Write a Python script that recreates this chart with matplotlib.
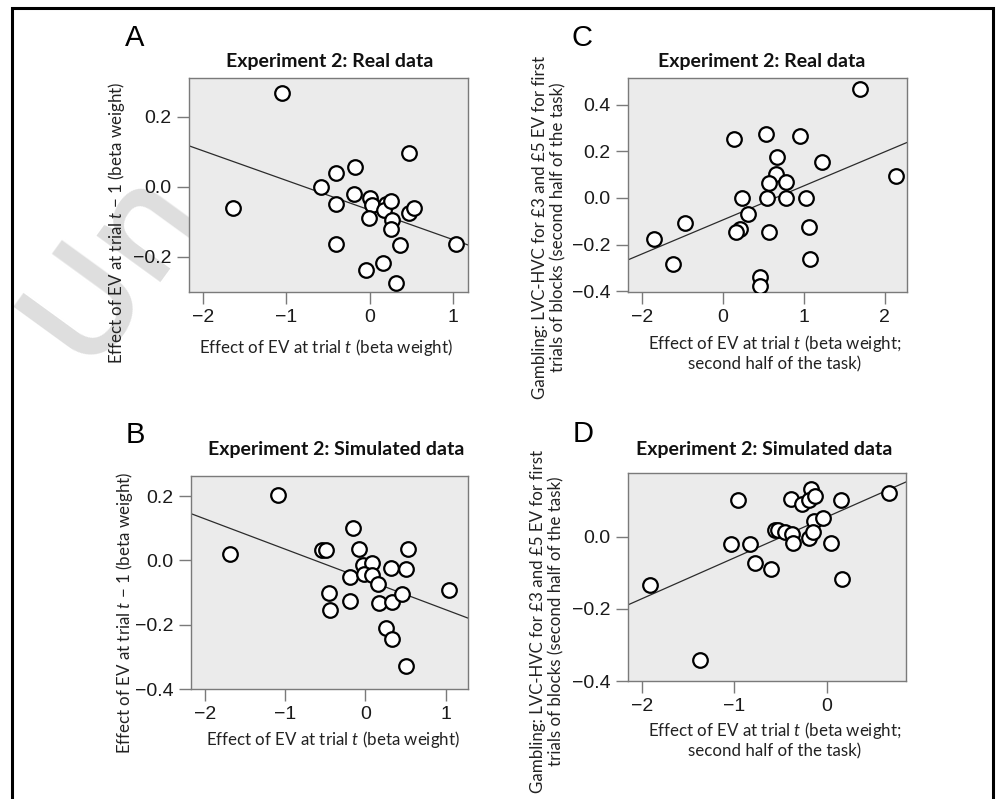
import matplotlib
matplotlib.use("Agg")
import matplotlib.pyplot as plt
from matplotlib.patches import Rectangle
import numpy as np

W, H = 1003, 799

# ---------------- data ----------------
# Panel A: Experiment 2 real data
a_x = [-1.055, -1.645, -0.58, -0.405, -0.405, -0.405, -0.176, -0.19, 0.0, 0.03, -0.01,
       -0.044, 0.19, 0.17, 0.26, 0.27, 0.25, 0.16, 0.31, 0.365, 0.47, 0.47, 0.53, 1.04]
a_y = [0.268, -0.059, 0.001, 0.039, -0.049, -0.163, 0.058, -0.02, -0.032, -0.053, -0.089,
       -0.237, -0.049, -0.066, -0.039, -0.094, -0.12, -0.216, -0.273, -0.167, 0.096, -0.075,
       -0.061, -0.164]
a_fit = [-0.0845, -0.066]          # slope, intercept

# Panel B: Experiment 2 simulated data
b_x = [-1.096, -1.688, -0.537, -0.496, -0.454, -0.446, -0.196, -0.192, -0.154, -0.079,
       -0.025, 0.079, -0.017, 0.079, 0.15, 0.163, 0.321, 0.329, 0.254, 0.333, 0.458,
       0.508, 0.525, 0.508, 1.046]
b_y = [0.205, 0.021, 0.033, 0.033, -0.101, -0.154, -0.125, -0.051, 0.100, 0.036,
       -0.015, -0.008, -0.041, -0.046, -0.072, -0.132, -0.024, -0.129, -0.210, -0.245,
       -0.104, -0.027, 0.036, -0.328, -0.092]
b_fit = [-0.094, -0.059]

# Panel C: Experiment 2 real data (gambling)
c_x = [-0.849, -0.618, -0.466, 0.132, 0.235, 0.214, 0.165, 0.305, 0.536, 0.667, 0.659,
       0.569, 0.544, 0.573, 0.779, 0.783, 0.956, 1.03, 1.063, 1.08, 1.22, 0.461, 0.461,
       1.698, 2.143]
c_y = [-0.177, -0.282, -0.108, 0.251, 0.0, -0.132, -0.148, -0.068, 0.272, 0.174, 0.102,
       0.065, 0.0, -0.145, 0.07, 0.0, 0.265, 0.0, -0.125, -0.26, 0.154, -0.339, -0.379,
       0.468, 0.095]
c_fit = [0.1459, -0.094]

# Panel D: Experiment 2 simulated data (gambling)
d_x = [-1.914, -1.369, -0.964, -1.040, -0.834, -0.776, -0.607, -0.560, -0.524, -0.451,
       -0.372, -0.368, -0.390, -0.271, -0.173, -0.188, -0.126, -0.188, -0.137, -0.144,
       -0.043, 0.047, 0.152, 0.162, 0.668]
d_y = [-0.135, -0.341, 0.103, -0.020, -0.020, -0.074, -0.088, 0.018, 0.018, 0.012,
       0.009, -0.018, 0.106, 0.090, 0.134, 0.103, 0.112, -0.002, 0.044, 0.014,
       0.053, -0.018, 0.103, -0.117, 0.122]
d_fit = [0.1135, 0.055]

a_xticks, a_xlabels = [-2, -1, 0, 1], ["\u22122", "\u22121", "0", "1"]
a_yticks, a_ylabels = [0.2, 0.0, -0.2], ["0.2", "0.0", "\u22120.2"]
b_xticks, b_xlabels = [-2, -1, 0, 1], ["\u22122", "\u22121", "0", "1"]
b_yticks, b_ylabels = [0.2, 0.0, -0.2, -0.4], ["0.2", "0.0", "\u22120.2", "\u22120.4"]
c_xticks, c_xlabels = [-1, 0, 1, 2], ["\u22122", "0", "1", "2"]
c_yticks, c_ylabels = [0.4, 0.2, 0.0, -0.2, -0.4], ["0.4", "0.2", "0.0", "\u22120.2", "\u22120.4"]
d_xticks, d_xlabels = [-2, -1, 0], ["\u22122", "\u22121", "0"]
d_yticks, d_ylabels = [0.0, -0.2, -0.4], ["0.0", "\u22120.2", "\u22120.4"]

title_real = "Experiment 2: Real data"
title_sim = "Experiment 2: Simulated data"
xlab_ab = "Effect of EV at trial $t$ (beta weight)"
ylab_ab = "Effect of EV at trial $t$ \u2212 1 (beta weight)"
xlab_cd = "Effect of EV at trial $t$ (beta weight;\nsecond half of the task)"
ylab_cd = "Gambling: LVC-HVC for \u00a33 and \u00a35 EV for first\ntrials of blocks (second half of the task)"
watermark = "Un"

# ---------------- style ----------------
plt.rcParams["mathtext.fontset"] = "custom"
plt.rcParams["mathtext.it"] = "Lato:italic"
plt.rcParams["mathtext.rm"] = "Lato"
LABFONT = "Lato"
TICKFONT = "Liberation Sans"
BG = "#ebebeb"
SPINE = "#7a7a7a"

fig = plt.figure(figsize=(W / 100, H / 100), dpi=100)


def px_rect(l, t, r, b):
    return [l / W, 1 - b / H, (r - l) / W, (b - t) / H]


def fx(x):
    return x / W


def fy(y):
    return 1 - y / H


# faint watermark fragment at the left margin
fig.text(fx(85), fy(368), watermark, family="Open Sans", fontweight="semibold",
         fontsize=105, color="#dedede", rotation=54, rotation_mode="anchor",
         ha="left", va="baseline", zorder=-5)

# outer frame
fig.patches.append(Rectangle((fx(12), fy(830)), fx(993) - fx(12), fy(8) - fy(830),
                             transform=fig.transFigure, fill=False, lw=2.2,
                             edgecolor="black", zorder=5))


def panel(rect, xs, ys, fit, xlim, ylim, xticks, xlabels, yticks, ylabels):
    ax = fig.add_axes(px_rect(*rect))
    ax.set_facecolor(BG)
    ax.set_xlim(*xlim)
    ax.set_ylim(*ylim)
    xx = np.array(xlim)
    ax.plot(xx, fit[0] * xx + fit[1], color="#2b2b2b", lw=0.9, zorder=2)
    ax.plot(xs, ys, "o", ms=10.5, mfc="white", mec="black", mew=1.6, zorder=3)
    ax.set_xticks(xticks)
    ax.set_xticklabels(xlabels)
    ax.set_yticks(yticks)
    ax.set_yticklabels(ylabels)
    for s in ax.spines.values():
        s.set_color(SPINE)
        s.set_linewidth(1.0)
    ax.tick_params(direction="out", length=8.5, width=1.0, color=SPINE,
                   labelsize=14, labelcolor="#1a1a1a", pad=4)
    ax.tick_params(axis="y", pad=4)
    for lab in ax.get_xticklabels() + ax.get_yticklabels():
        lab.set_family(TICKFONT)
    return ax


panel((189, 78, 468, 292), a_x, a_y, a_fit, (-2.17, 1.18), (-0.30, 0.311),
      a_xticks, a_xlabels, a_yticks, a_ylabels)
panel((191, 476, 468, 689), b_x, b_y, b_fit, (-2.179, 1.28), (-0.40, 0.263),
      b_xticks, b_xlabels, b_yticks, b_ylabels)
panel((628, 78, 907, 292), c_x, c_y, c_fit, (-1.174, 2.274), (-0.403, 0.514),
      c_xticks, c_xlabels, c_yticks, c_ylabels)
panel((628, 473, 906, 681), d_x, d_y, d_fit, (-2.148, 0.856), (-0.40, 0.177),
      d_xticks, d_xlabels, d_yticks, d_ylabels)

# titles
tkw = dict(family=LABFONT, fontweight="bold", fontsize=14, ha="center", va="center",
           color="#111111")
fig.text(fx(330), fy(61), title_real, **tkw)
fig.text(fx(762), fy(61), title_real, **tkw)
fig.text(fx(336), fy(450), title_sim, **tkw)
fig.text(fx(764), fy(450), title_sim, **tkw)

# panel letters
lkw = dict(family=TICKFONT, fontsize=21, ha="center", va="center", color="black")
fig.text(fx(135), fy(38), "A", **lkw)
fig.text(fx(135), fy(435), "B", **lkw)
fig.text(fx(582), fy(38), "C", **lkw)
fig.text(fx(583), fy(434), "D", **lkw)

# axis labels
akw = dict(family=LABFONT, fontsize=12.2, color="#222222", ha="center", va="center")
fig.text(fx(326), fy(347), xlab_ab, **akw)
fig.text(fx(333), fy(739), xlab_ab, **akw)
fig.text(fx(775), fy(353), xlab_cd, linespacing=1.2, **akw)
fig.text(fx(775), fy(740), xlab_cd, linespacing=1.2, **akw)
fig.text(fx(117), fy(223), ylab_ab, rotation=90, **akw)
fig.text(fx(125), fy(613), ylab_ab, rotation=90, **akw)
fig.text(fx(549), fy(227), ylab_cd, rotation=90, linespacing=1.2, **akw)
fig.text(fx(547), fy(621), ylab_cd, rotation=90, linespacing=1.2, **akw)

fig.savefig("out.png", dpi=100, facecolor="white")
